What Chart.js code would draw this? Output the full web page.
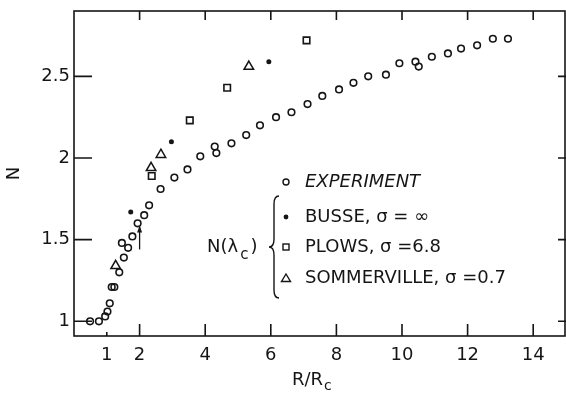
<!DOCTYPE html>
<html>
<head>
<meta charset="utf-8">
<script src="https://cdn.jsdelivr.net/npm/chart.js@4"></script>
<style>
  html, body { margin: 0; padding: 0; background: #fff; }
  #c { display: block; }
</style>
</head>
<body>
<canvas id="c" width="566" height="396"></canvas>
<script>
// Experiment (open circles)
const expX = [0.49, 0.76, 0.95, 1.02, 1.09, 1.15, 1.23, 1.38, 1.52, 1.46, 1.65, 1.78, 1.94, 2.14, 2.29, 2.64, 3.06, 3.46, 3.85,
              4.29, 4.34, 4.80, 5.25, 5.67, 6.16, 6.63, 7.12, 7.57, 8.08, 8.52, 8.97, 9.51, 9.92, 10.41, 10.51, 10.91,
              11.40, 11.80, 12.29, 12.77, 13.23];
const expY = [1.00, 1.00, 1.03, 1.06, 1.11, 1.21, 1.21, 1.30, 1.39, 1.48, 1.45, 1.52, 1.60, 1.65, 1.71, 1.81, 1.88, 1.93, 2.01,
              2.07, 2.03, 2.09, 2.14, 2.20, 2.25, 2.28, 2.33, 2.38, 2.42, 2.46, 2.50, 2.51, 2.58, 2.59, 2.56, 2.62,
              2.64, 2.67, 2.69, 2.73, 2.73];

// Busse, sigma = inf (filled dots)
const busseX = [1.73, 2.97, 5.94];
const busseY = [1.67, 2.10, 2.59];

// Plows, sigma = 6.8 (squares)
const plowsX = [2.37, 3.53, 4.67, 7.09];
const plowsY = [1.89, 2.23, 2.43, 2.72];

// Sommerville, sigma = 0.7 (triangles)
const sommX = [1.27, 2.35, 2.65, 5.33];
const sommY = [1.34, 1.94, 2.02, 2.56];

const xTickValues = [1, 2, 4, 6, 8, 10, 12, 14];
const yTickValues = [1, 1.5, 2, 2.5];

const INK = '#151515';
const FONT = '"DejaVu Sans", sans-serif';

function toPoints(xs, ys) {
    return xs.map((x, i) => ({ x: x, y: ys[i] }));
}

// frame, inward ticks, arrow and the hand-lettered legend
const decorations = {
    id: 'decorations',
    afterDraw(chart) {
        const ctx = chart.ctx;
        const a = chart.chartArea;
        const xs = chart.scales.x;
        const ys = chart.scales.y;
        ctx.save();
        ctx.strokeStyle = INK;
        ctx.fillStyle = INK;
        ctx.lineWidth = 1.6;

        // box
        ctx.strokeRect(a.left, a.top, a.right - a.left - 1, a.bottom - a.top);

        // ticks
        ctx.beginPath();
        [2, 4, 6, 8, 10, 12, 14].forEach(v => {
            const px = xs.getPixelForValue(v);
            ctx.moveTo(px, a.bottom); ctx.lineTo(px, a.bottom - 12);
            ctx.moveTo(px, a.top); ctx.lineTo(px, a.top + 9);
        });
        const p1 = xs.getPixelForValue(1);
        ctx.moveTo(p1, a.bottom); ctx.lineTo(p1, a.bottom - 4);
        yTickValues.forEach(v => {
            const py = ys.getPixelForValue(v);
            ctx.moveTo(a.left, py); ctx.lineTo(a.left + 18, py);
            ctx.moveTo(a.right, py); ctx.lineTo(a.right - 8, py);
        });
        ctx.stroke();

        // arrow at R/Rc = 2
        const ax = xs.getPixelForValue(2);
        const ay0 = ys.getPixelForValue(1.44);
        const ay1 = ys.getPixelForValue(1.58);
        ctx.lineWidth = 1.3;
        ctx.beginPath();
        ctx.moveTo(ax, ay0); ctx.lineTo(ax, ay1);
        ctx.stroke();
        ctx.beginPath();
        ctx.moveTo(ax, ay1 - 1);
        ctx.lineTo(ax - 2.5, ay1 + 6);
        ctx.lineTo(ax + 2.5, ay1 + 6);
        ctx.closePath();
        ctx.fill();

        // x axis title R/Rc
        ctx.font = '18px ' + FONT;
        ctx.textBaseline = 'middle';
        ctx.textAlign = 'left';
        ctx.fillText('R/R', 292, 380);
        const w = ctx.measureText('R/R').width;
        ctx.font = '14px ' + FONT;
        ctx.fillText('c', 292 + w + 1, 386);

        // legend
        const mx = 286;
        const tx = 305;
        const rows = [182, 217, 247, 278];
        ctx.lineWidth = 1.4;
        // circle
        ctx.beginPath();
        ctx.arc(mx, rows[0], 3, 0, Math.PI * 2);
        ctx.stroke();
        // dot
        ctx.beginPath();
        ctx.arc(mx, rows[1], 2.4, 0, Math.PI * 2);
        ctx.fill();
        // square
        ctx.strokeRect(mx - 3, rows[2] - 3, 6, 6);
        // triangle
        ctx.beginPath();
        ctx.moveTo(mx, rows[3] - 4);
        ctx.lineTo(mx - 4.5, rows[3] + 3.5);
        ctx.lineTo(mx + 4.5, rows[3] + 3.5);
        ctx.closePath();
        ctx.stroke();

        ctx.font = 'italic 18px ' + FONT;
        ctx.fillText('EXPERIMENT', tx, rows[0]);
        ctx.font = '18px ' + FONT;
        ctx.fillText('BUSSE, \u03c3 = \u221e', tx, rows[1]);
        ctx.fillText('PLOWS, \u03c3 =6.8', tx, rows[2]);
        ctx.fillText('SOMMERVILLE, \u03c3 =0.7', tx, rows[3]);

        // brace
        const bx = 274, bt = 196, bb = 298, bm = 247;
        ctx.lineWidth = 1.4;
        ctx.beginPath();
        ctx.moveTo(bx + 5, bt);
        ctx.quadraticCurveTo(bx, bt, bx, bt + 8);
        ctx.lineTo(bx, bm - 8);
        ctx.quadraticCurveTo(bx, bm, bx - 5, bm);
        ctx.quadraticCurveTo(bx, bm, bx, bm + 8);
        ctx.lineTo(bx, bb - 8);
        ctx.quadraticCurveTo(bx, bb, bx + 5, bb);
        ctx.stroke();

        // N(lambda_c)
        ctx.font = '18px ' + FONT;
        ctx.fillText('N(\u03bb', 207, 247);
        let nx = 207 + ctx.measureText('N(\u03bb').width + 2;
        ctx.font = '15px ' + FONT;
        ctx.fillText('c', nx, 255);
        nx += ctx.measureText('c').width + 2;
        ctx.font = '18px ' + FONT;
        ctx.fillText(')', nx, 247);

        ctx.restore();
    }
};

const ctx = document.getElementById('c').getContext('2d');

new Chart(ctx, {
    type: 'scatter',
    data: {
        datasets: [
            {
                label: 'EXPERIMENT',
                data: toPoints(expX, expY),
                pointStyle: 'circle',
                pointRadius: 3.3,
                borderWidth: 1.6,
                borderColor: INK,
                backgroundColor: 'rgba(0,0,0,0)'
            },
            {
                label: 'BUSSE',
                data: toPoints(busseX, busseY),
                pointStyle: 'circle',
                pointRadius: 2.5,
                borderWidth: 0,
                borderColor: INK,
                backgroundColor: INK
            },
            {
                label: 'PLOWS',
                data: toPoints(plowsX, plowsY),
                pointStyle: 'rect',
                pointRadius: 4.6,
                borderWidth: 1.6,
                borderColor: INK,
                backgroundColor: 'rgba(0,0,0,0)'
            },
            {
                label: 'SOMMERVILLE',
                data: toPoints(sommX, sommY),
                pointStyle: 'triangle',
                pointRadius: 5.5,
                borderWidth: 1.5,
                borderColor: INK,
                backgroundColor: 'rgba(0,0,0,0)'
            }
        ]
    },
    options: {
        responsive: false,
        animation: false,
        layout: { autoPadding: false, padding: { top: 11, right: 0, left: 0, bottom: 0 } },
        plugins: {
            legend: { display: false },
            tooltip: { enabled: false }
        },
        scales: {
            x: {
                type: 'linear',
                min: 0,
                max: 15,
                afterBuildTicks: s => { s.ticks = xTickValues.map(v => ({ value: v })); },
                afterFit: s => { s.height = 60; s.paddingRight = 0; s.paddingLeft = 0; },
                grid: { display: false, drawTicks: false },
                border: { display: false },
                ticks: {
                    color: INK,
                    padding: 9,
                    font: { family: FONT, size: 18 },
                    callback: v => String(v)
                }
            },
            y: {
                type: 'linear',
                min: 0.91,
                max: 2.9,
                afterBuildTicks: s => { s.ticks = yTickValues.map(v => ({ value: v })); },
                afterFit: s => { s.width = 74; s.paddingTop = 0; s.paddingBottom = 0; },
                grid: { display: false, drawTicks: false },
                border: { display: false },
                title: {
                    display: true,
                    text: 'N',
                    color: INK,
                    font: { family: FONT, size: 18 }
                },
                ticks: {
                    color: INK,
                    padding: 4,
                    font: { family: FONT, size: 18 },
                    callback: v => String(v)
                }
            }
        }
    },
    plugins: [decorations]
});
</script>
</body>
</html>
